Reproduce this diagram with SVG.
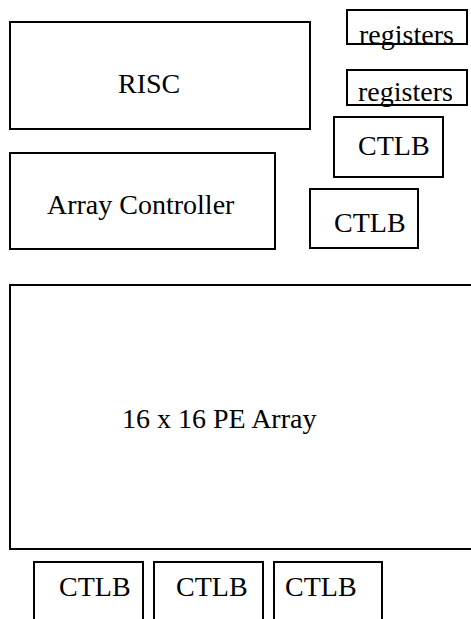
<svg xmlns="http://www.w3.org/2000/svg" width="471" height="619" viewBox="0 0 471 619">
<style>
.b{fill:none;stroke:#000;stroke-width:2}
.t{font-family:"Times New Roman","Liberation Serif","DejaVu Serif",Times,serif;font-size:28px;fill:#000}
</style>
<rect x="0" y="0" width="471" height="619" fill="#fff"/>
<g id="risc"><rect class="b" x="10" y="22" width="300" height="107"/><text class="t" x="118" y="93">RISC</text></g>
<g id="registers1"><rect class="b" x="347" y="10" width="120" height="34"/><text class="t" x="359" y="44">registers</text></g>
<g id="registers2"><rect class="b" x="347" y="70" width="120" height="35"/><text class="t" x="358" y="101">registers</text></g>
<g id="ctlb1"><rect class="b" x="334" y="117" width="109" height="60"/><text class="t" x="358" y="155">CTLB</text></g>
<g id="array-controller"><rect class="b" x="10" y="153" width="265" height="96"/><text class="t" x="47" y="214">Array Controller</text></g>
<g id="ctlb2"><rect class="b" x="310" y="189" width="108" height="59"/><text class="t" x="334" y="232">CTLB</text></g>
<g id="pe-array"><rect class="b" x="10" y="285" width="480" height="264"/><text class="t" x="122" y="428">16 x 16 PE Array</text></g>
<g id="ctlb3"><rect class="b" x="34" y="562" width="109" height="80"/><text class="t" x="59" y="596">CTLB</text></g>
<g id="ctlb4"><rect class="b" x="154" y="562" width="109" height="80"/><text class="t" x="176" y="596">CTLB</text></g>
<g id="ctlb5"><rect class="b" x="274" y="562" width="108" height="80"/><text class="t" x="285" y="596">CTLB</text></g>
<g id="connectors"></g>
</svg>
